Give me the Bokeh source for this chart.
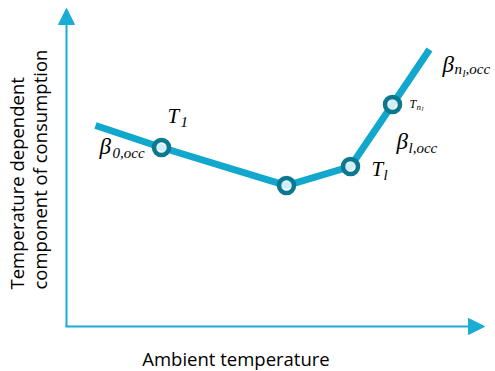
import math
from bokeh.plotting import figure
from bokeh.models import Arrow, NormalHead, ColumnDataSource
from bokeh.core.properties import value
from bokeh.embed import file_html
from bokeh.resources import INLINE

# ---- data (picture units: temperature rightwards, consumption upwards) ----
knot_temp = [95, 161, 286, 350, 392, 429]
knot_cons = [246, 224, 186, 205, 267, 322]
circle_idx = [1, 2, 3, 4]

x_axis_label = "Ambient temperature"
y_axis_lines = ["Temperature dependent", "component of consumption"]

W, H = 495, 371
origin_x, origin_y = 65, 45
x_tip, y_tip = 484, 363

AXIS_C = "#19ACD4"
LINE_C = "#12A8CE"
CIRC_C = "#0B7890"
MATH_FONT = value("Liberation Serif")

p = figure(width=W, height=H, x_range=(0, W), y_range=(0, H),
           output_backend="svg", toolbar_location=None,
           min_border=0, outline_line_color=None)
p.axis.visible = False
p.grid.visible = False
p.background_fill_color = "white"

# axes with arrows
p.add_layout(Arrow(x_start=origin_x, y_start=origin_y, x_end=x_tip, y_end=origin_y,
                   line_color=AXIS_C, line_width=2,
                   end=NormalHead(size=16, fill_color=AXIS_C, line_color=AXIS_C, line_width=1)))
p.add_layout(Arrow(x_start=origin_x + 1, y_start=origin_y, x_end=origin_x + 1, y_end=y_tip,
                   line_color=AXIS_C, line_width=2,
                   end=NormalHead(size=16, fill_color=AXIS_C, line_color=AXIS_C, line_width=1)))

# piecewise line
src = ColumnDataSource(dict(x=knot_temp, y=knot_cons))
p.line("x", "y", source=src, line_color=LINE_C, line_width=7, line_cap="butt", line_join="miter")

csrc = ColumnDataSource(dict(x=[knot_temp[i] for i in circle_idx],
                             y=[knot_cons[i] for i in circle_idx]))
p.scatter("x", "y", source=csrc, marker="circle", size=15, line_width=4.5,
          line_color=CIRC_C, fill_color="white", fill_alpha=0.8)


def label(anchor, dx, dy, txt, size):
    """Place a piece of italic math text relative to a knot (screen px offsets)."""
    p.text(x=[knot_temp[anchor]], y=[knot_cons[anchor]], text=[txt],
           x_offset=dx, y_offset=dy - round(0.36 * size), text_font=MATH_FONT,
           text_font_style="italic",
           text_font_size=f"{size}px", text_color="black",
           text_align="left", text_baseline="alphabetic")


# beta_{0,occ} and T_1 around knot 1
label(1, -62, 7, "β", 23)
label(1, -49, 10, "0,occ", 15)
label(1, 6, -24, "T", 21)
label(1, 19, -21, "1", 15)
# T_l around knot 3
label(3, 21, 10, "T", 21)
label(3, 33, 13, "l", 15)
# beta_{l,occ}
label(3, 46, -17, "β", 23)
label(3, 58, -14, "l,occ", 15)
# T_{n_l}
label(4, 17, 3, "T", 12)
label(4, 24, 5, "n", 9)
label(4, 29, 7, "l", 7)
# beta_{n_l,occ}
label(5, 13, 23, "β", 23)
label(5, 25, 24, "n", 15)
label(5, 33, 27, "l", 11)
label(5, 36, 24, ",occ", 15)

# axis titles
p.text(x=[(origin_x + x_tip) / 2 - 39], y=[6], y_offset=-7, text=[x_axis_label],
       text_font=value("Open Sans"), text_font_size="18.5px", text_color="black",
       text_align="center", text_baseline="alphabetic")
p.text(x=[16, 39], y=[82, 82], text=y_axis_lines, angle=math.pi / 2,
       text_font=value("Open Sans"), text_font_size="18.5px", text_color="black",
       text_align="left", text_baseline="alphabetic")

open("out.html", "w").write(file_html(p, INLINE))
